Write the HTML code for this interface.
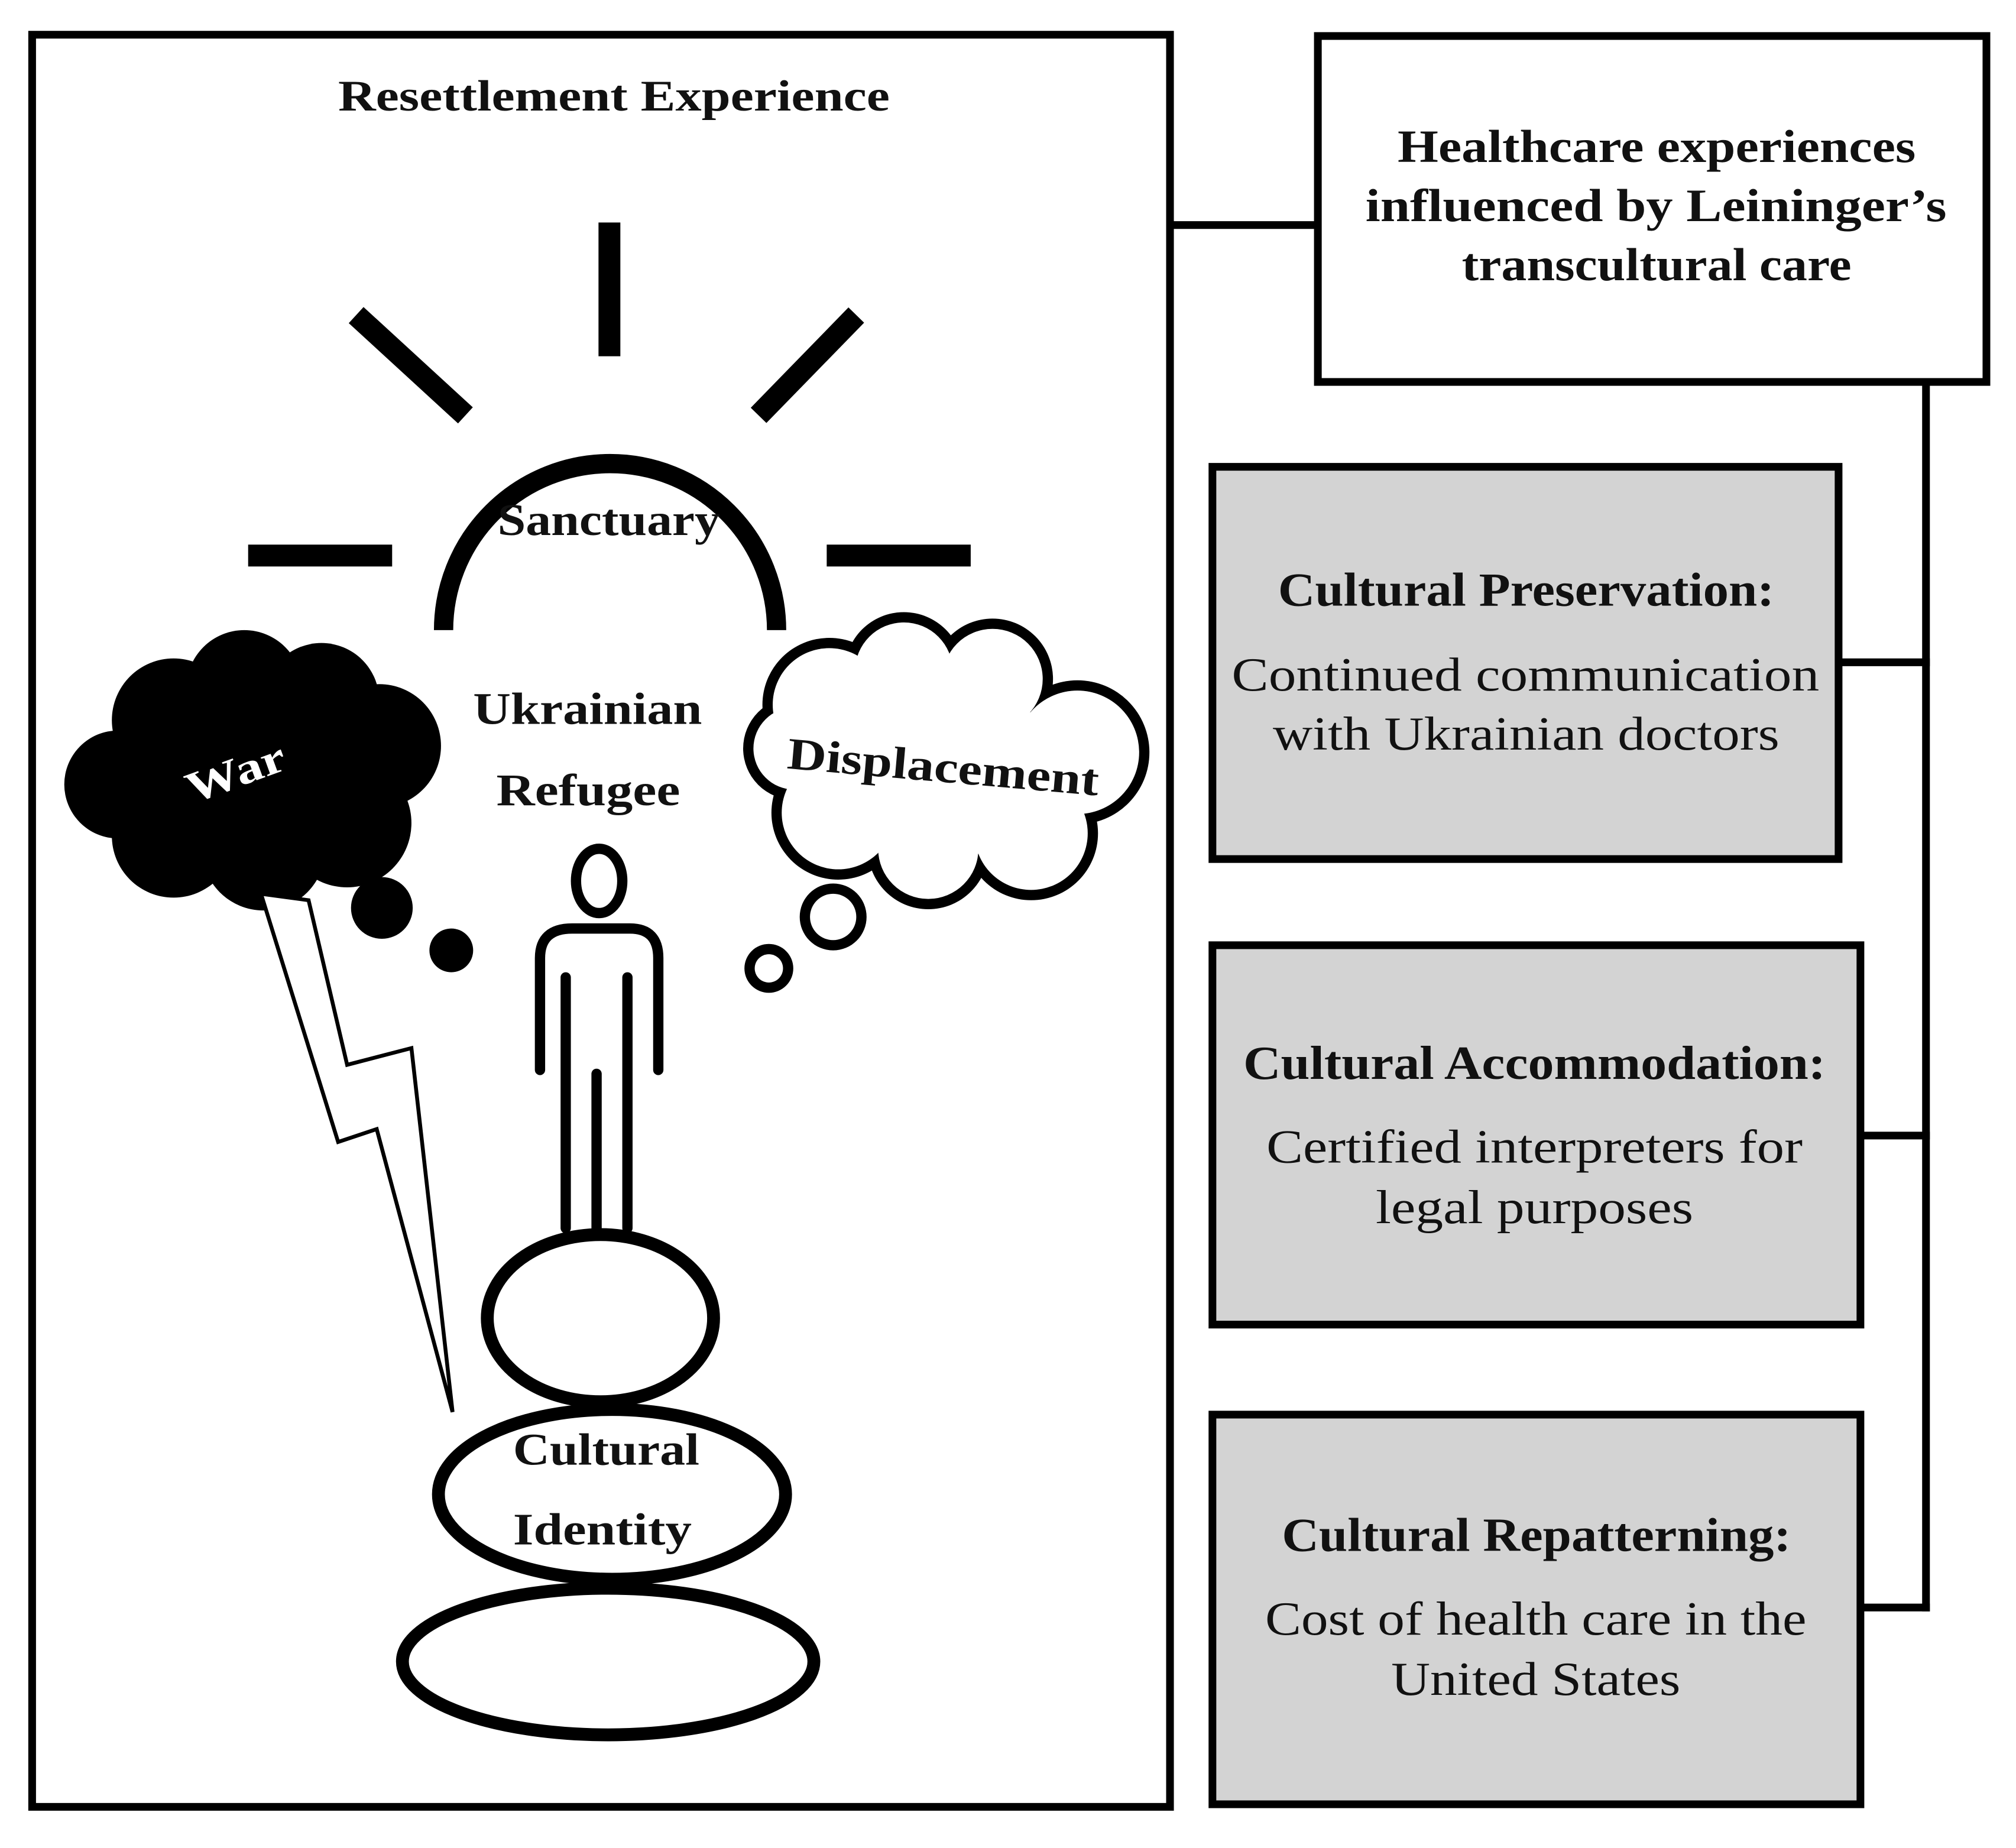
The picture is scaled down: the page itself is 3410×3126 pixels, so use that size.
<!DOCTYPE html>
<html><head><meta charset="utf-8"><style>
html,body{margin:0;padding:0;background:#fff}
svg{display:block}
text{font-family:"Liberation Serif",serif;fill:#111}
.b{font-weight:bold}
</style></head><body>
<svg width="3410" height="3126" viewBox="0 0 1568 1437" preserveAspectRatio="none" xmlns="http://www.w3.org/2000/svg">
<rect x="25" y="27" width="885" height="1378" fill="#fff" stroke="#000" stroke-width="6"/>
<text x="263" y="86" class="b" font-size="34" textLength="429" lengthAdjust="spacingAndGlyphs">Resettlement Experience</text>
<rect x="1025" y="28" width="520" height="269" fill="#fff" stroke="#000" stroke-width="6"/>
<text x="1087" y="126" class="b" font-size="36" textLength="403" lengthAdjust="spacingAndGlyphs">Healthcare experiences</text>
<text x="1062" y="172" class="b" font-size="36" textLength="452" lengthAdjust="spacingAndGlyphs">influenced by Leininger’s</text>
<text x="1137" y="218" class="b" font-size="36" textLength="303" lengthAdjust="spacingAndGlyphs">transcultural care</text>
<g stroke="#000" stroke-width="6" fill="none">
<line x1="910" y1="175" x2="1025" y2="175"/>
<line x1="1498" y1="297" x2="1498" y2="1253"/>
<line x1="1430" y1="515" x2="1501" y2="515"/>
<line x1="1447" y1="883" x2="1501" y2="883"/>
<line x1="1447" y1="1250" x2="1501" y2="1250"/>
</g>
<g fill="#d3d3d3" stroke="#000" stroke-width="6">
<rect x="943" y="363" width="487" height="305"/>
<rect x="943" y="735" width="504" height="295"/>
<rect x="943" y="1100" width="504" height="303"/>
</g>
<g lengthAdjust="spacingAndGlyphs">
<text x="994" y="471" class="b" font-size="37" textLength="386" lengthAdjust="spacingAndGlyphs">Cultural Preservation:</text>
<text x="958" y="537" font-size="37" textLength="457" lengthAdjust="spacingAndGlyphs">Continued communication</text>
<text x="990" y="583" font-size="37" textLength="394" lengthAdjust="spacingAndGlyphs">with Ukrainian doctors</text>
<text x="967" y="839" class="b" font-size="37" textLength="453" lengthAdjust="spacingAndGlyphs">Cultural Accommodation:</text>
<text x="985" y="904" font-size="37" textLength="417" lengthAdjust="spacingAndGlyphs">Certified interpreters for</text>
<text x="1070" y="951" font-size="37" textLength="247" lengthAdjust="spacingAndGlyphs">legal purposes</text>
<text x="997" y="1206" class="b" font-size="37" textLength="396" lengthAdjust="spacingAndGlyphs">Cultural Repatterning:</text>
<text x="984" y="1271" font-size="37" textLength="421" lengthAdjust="spacingAndGlyphs">Cost of health care in the</text>
<text x="1082" y="1318" font-size="37" textLength="225" lengthAdjust="spacingAndGlyphs">United States</text>
</g>
<path d="M345,490 A129,129 0 0 1 604,490" fill="none" stroke="#000" stroke-width="15"/>
<g stroke="#000" stroke-width="17">
<line x1="474" y1="173" x2="474" y2="277"/>
<line x1="277" y1="245" x2="362" y2="323"/>
<line x1="666" y1="245" x2="590" y2="323"/>
<line x1="193" y1="432" x2="305" y2="432"/>
<line x1="643" y1="432" x2="755" y2="432"/>
</g>
<text x="387" y="416" class="b" font-size="35" textLength="173" lengthAdjust="spacingAndGlyphs">Sanctuary</text>
<text x="368" y="563" class="b" font-size="35" textLength="178" lengthAdjust="spacingAndGlyphs">Ukrainian</text>
<text x="386" y="626" class="b" font-size="35" textLength="143" lengthAdjust="spacingAndGlyphs">Refugee</text>
<g fill="#000">
<circle cx="190" cy="600" r="85"/>
<circle cx="135" cy="560" r="48"/><circle cx="190" cy="535" r="45"/><circle cx="250" cy="545" r="45"/>
<circle cx="295" cy="580" r="48"/><circle cx="270" cy="640" r="50"/><circle cx="205" cy="660" r="48"/>
<circle cx="135" cy="650" r="48"/><circle cx="92" cy="610" r="42"/>
<circle cx="297" cy="706" r="24"/><circle cx="351" cy="739" r="17"/>
</g>
<text x="143" y="612" class="b" font-size="34" textLength="80" lengthAdjust="spacingAndGlyphs" transform="rotate(-20 183 600)" style="fill:#fff">War</text>
<polygon points="203,695 263,888 293,878 352,1098 320,815 270,828 240,700" fill="#fff" stroke="#000" stroke-width="3"/>
<g fill="#000">
<circle cx="645" cy="548" r="52"/><circle cx="703" cy="522" r="46"/><circle cx="772" cy="528" r="47"/>
<circle cx="838" cy="585" r="56"/><circle cx="802" cy="648" r="52"/><circle cx="722" cy="660" r="47"/>
<circle cx="652" cy="632" r="52"/><circle cx="618" cy="582" r="40"/><circle cx="730" cy="590" r="80"/>
<circle cx="648" cy="713" r="26"/><circle cx="598" cy="753" r="19"/>
</g>
<g fill="#fff">
<circle cx="645" cy="548" r="44"/><circle cx="703" cy="522" r="38"/><circle cx="772" cy="528" r="39"/>
<circle cx="838" cy="585" r="48"/><circle cx="802" cy="648" r="44"/><circle cx="722" cy="660" r="39"/>
<circle cx="652" cy="632" r="44"/><circle cx="618" cy="582" r="32"/><circle cx="730" cy="590" r="80"/>
<circle cx="648" cy="713" r="18"/><circle cx="598" cy="753" r="11"/>
</g>
<text x="612" y="608" class="b" font-size="35" textLength="243" lengthAdjust="spacingAndGlyphs" transform="rotate(5 733 598)">Displacement</text>
<ellipse cx="466" cy="685" rx="18" ry="25" fill="none" stroke="#000" stroke-width="8"/>
<path d="M420,832 L420,745 Q420,722 445,722 L490,722 Q512,722 512,745 L512,832" fill="none" stroke="#000" stroke-width="8" stroke-linecap="round"/>
<path d="M440,760 L440,955 M488,760 L488,955 M464,835 L464,955" fill="none" stroke="#000" stroke-width="8" stroke-linecap="round"/>
<g fill="#fff" stroke="#000" stroke-width="10">
<ellipse cx="473" cy="1292" rx="160" ry="57"/>
<ellipse cx="476" cy="1162" rx="135" ry="66"/>
<ellipse cx="467" cy="1025" rx="88" ry="65"/>
</g>
<text x="399" y="1139" class="b" font-size="35" textLength="145" lengthAdjust="spacingAndGlyphs">Cultural</text>
<text x="399" y="1201" class="b" font-size="35" textLength="139" lengthAdjust="spacingAndGlyphs">Identity</text>
</svg>
</body></html>
